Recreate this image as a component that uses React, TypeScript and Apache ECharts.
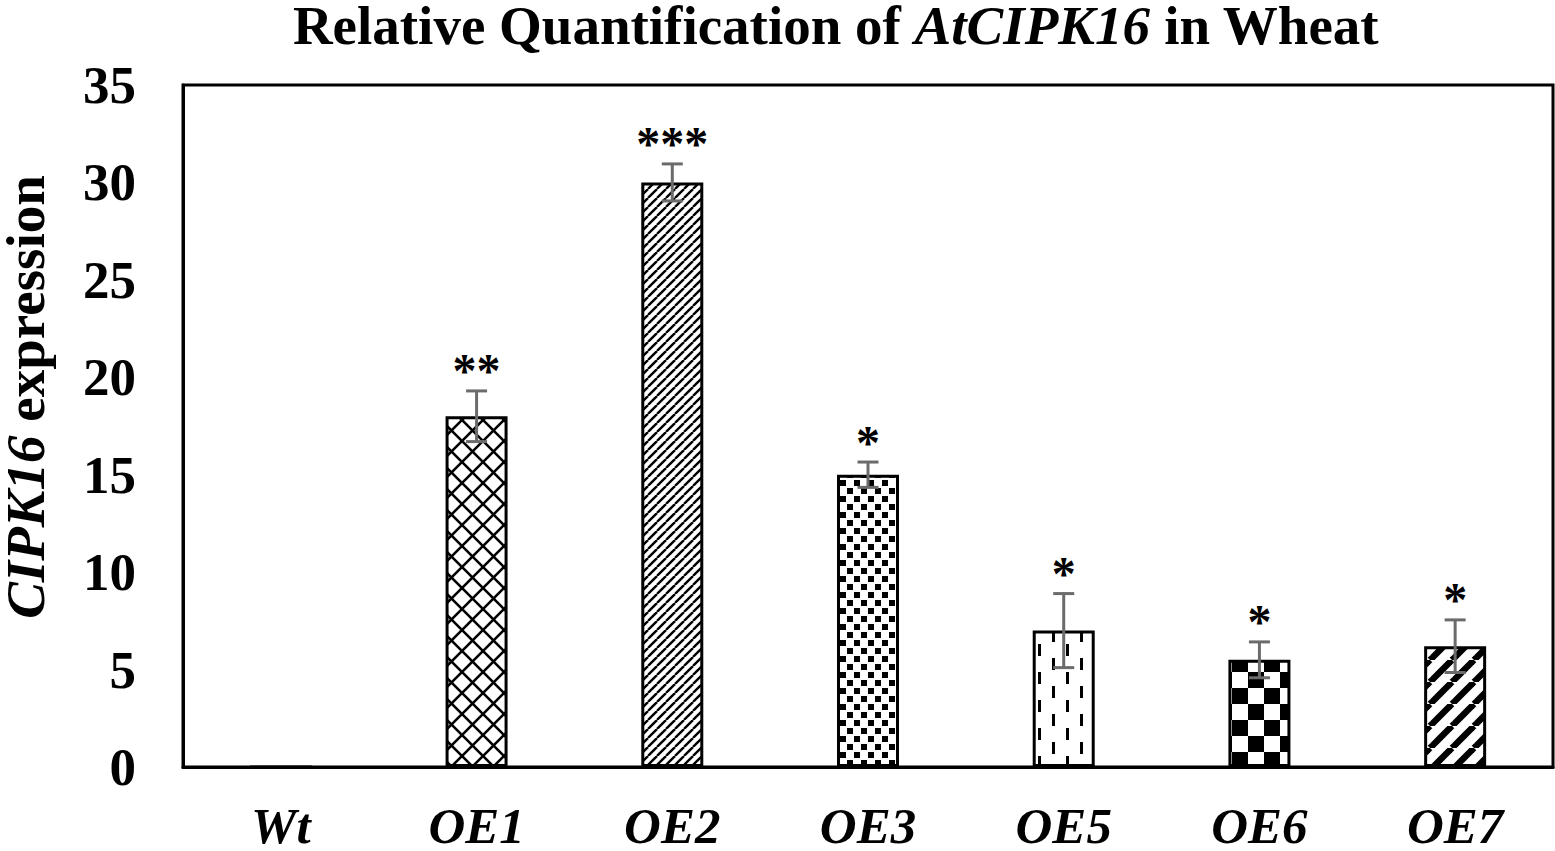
import React, { useEffect, useRef } from "react";
import * as echarts from "echarts";

const categories = ["Wt", "OE1", "OE2", "OE3", "OE5", "OE6", "OE7"];
const values = [0, 18.0, 30.0, 15.0, 7.0, 5.5, 6.2];
const errors = [0, 1.3, 0.95, 0.65, 1.9, 0.92, 1.35];
const stars = ["", "**", "***", "*", "*", "*", "*"];
const patterns = ["none", "cross", "diagThin", "dots", "dashes", "checker", "diagThick"];
const yTicks = [0, 5, 10, 15, 20, 25, 30, 35];

const FONT = "Liberation Serif";

function tile(w: number, h: number, draw: (ctx: CanvasRenderingContext2D) => void) {
  const c = document.createElement("canvas");
  c.width = w;
  c.height = h;
  const ctx = c.getContext("2d") as CanvasRenderingContext2D;
  ctx.fillStyle = "#ffffff";
  ctx.fillRect(0, 0, w, h);
  ctx.fillStyle = "#000000";
  ctx.strokeStyle = "#000000";
  draw(ctx);
  return { image: c.toDataURL(), imageWidth: w, imageHeight: h, repeat: "repeat" };
}

function makePattern(name: string): any {
  switch (name) {
    case "cross": {
      const s = 21;
      return tile(s, s, (ctx) => {
        ctx.lineWidth = 2.6;
        for (const c of [-s, 0, s]) {
          ctx.beginPath();
          ctx.moveTo(c, 0);
          ctx.lineTo(c + s, s);
          ctx.stroke();
          ctx.beginPath();
          ctx.moveTo(c, s);
          ctx.lineTo(c + s, 0);
          ctx.stroke();
        }
      });
    }
    case "diagThin": {
      const s = 9;
      return tile(s, s, (ctx) => {
        ctx.lineWidth = 2.4;
        for (const c of [-s, 0, s]) {
          ctx.beginPath();
          ctx.moveTo(c, s);
          ctx.lineTo(c + s, 0);
          ctx.stroke();
        }
      });
    }
    case "diagThick": {
      const s = 22;
      return tile(s, s, (ctx) => {
        ctx.lineWidth = 6.5;
        for (const c of [-s, 0, s]) {
          ctx.beginPath();
          ctx.moveTo(c, s);
          ctx.lineTo(c + s, 0);
          ctx.stroke();
        }
      });
    }
    case "checker": {
      const s = 16;
      return tile(2 * s, 2 * s, (ctx) => {
        ctx.fillRect(0, 0, s, s);
        ctx.fillRect(s, s, s, s);
      });
    }
    case "dots": {
      return tile(14, 16, (ctx) => {
        ctx.fillRect(0, 0, 6, 6);
        ctx.fillRect(7, 8, 6, 6);
      });
    }
    case "dashes": {
      return tile(28, 28, (ctx) => {
        ctx.fillRect(2, 0, 3, 12);
        ctx.fillRect(16, 14, 3, 12);
      });
    }
    default:
      return "#ffffff";
  }
}

export default function App() {
  const ref = useRef<HTMLDivElement>(null);

  useEffect(() => {
    if (!ref.current) return;
    const chart = echarts.init(ref.current, undefined, { renderer: "svg" });

    const barData = values.map((v, i) => ({
      value: v,
      itemStyle: { color: makePattern(patterns[i]) },
    }));
    const errData = values.map((v, i) => [i, v, errors[i]]);

    const option: any = {
      animation: false,
      backgroundColor: "#ffffff",
      title: {
        text: "{b|Relative Quantification of }{i|AtCIPK16}{b| in Wheat}",
        left: 831,
        textAlign: "center",
        top: 0,
        textStyle: {
          rich: {
            b: { fontFamily: FONT, fontWeight: "bold", fontSize: 55, color: "#000", lineHeight: 40 },
            i: { fontFamily: FONT, fontWeight: "bold", fontStyle: "italic", fontSize: 55, color: "#000", lineHeight: 40 },
          },
        },
      },
      grid: {
        left: 183,
        right: 2,
        top: 85,
        bottom: 84,
        containLabel: false,
        outerBoundsMode: "none",
        show: true,
        borderColor: "#000",
        borderWidth: 3,
        backgroundColor: "transparent",
      },
      xAxis: {
        type: "category",
        data: categories,
        boundaryGap: true,
        axisLine: { show: true, lineStyle: { color: "#000", width: 3 } },
        axisTick: { show: false },
        axisLabel: {
          margin: 36,
          lineHeight: 46,
          fontFamily: FONT,
          fontWeight: "bold",
          fontStyle: "italic",
          fontSize: 51,
          color: "#000",
        },
        splitLine: { show: false },
      },
      yAxis: {
        type: "value",
        min: 0,
        max: 35,
        interval: 5,
        axisLine: { show: true, lineStyle: { color: "#000", width: 3 } },
        axisTick: { show: false },
        splitLine: { show: false },
        axisLabel: {
          margin: 47,
          fontFamily: FONT,
          fontWeight: "bold",
          fontSize: 53,
          color: "#000",
          formatter: (v: number) => (yTicks.includes(v) ? String(v) : ""),
        },
        name: "{i|CIPK16}{b| expression}",
        nameLocation: "middle",
        nameRotate: 90,
        nameGap: 134,
        nameTextStyle: {
          padding: [0, 0, 0, 58],
          rich: {
            b: { fontFamily: FONT, fontWeight: "bold", fontSize: 55, color: "#000", lineHeight: 48 },
            i: { fontFamily: FONT, fontWeight: "bold", fontStyle: "italic", fontSize: 55, color: "#000", lineHeight: 48 },
          },
        },
      },
      series: [
        {
          type: "bar",
          data: barData,
          barWidth: 62,
          itemStyle: { borderColor: "#000", borderWidth: 3 },
          z: 2,
        },
        {
          type: "custom",
          data: errData,
          z: 5,
          renderItem: (params: any, api: any) => {
            const x = api.value(0);
            const v = api.value(1);
            const e = api.value(2);
            const s = stars[params.dataIndex];
            if (!v) return { type: "group", children: [] };
            const top = api.coord([x, v + e]);
            const bot = api.coord([x, v - e]);
            const hw = 10.5;
            const ls = { stroke: "#6b6b6b", lineWidth: 3 };
            return {
              type: "group",
              children: [
                { type: "line", shape: { x1: top[0], y1: top[1], x2: bot[0], y2: bot[1] }, style: ls },
                { type: "line", shape: { x1: top[0] - hw, y1: top[1], x2: top[0] + hw, y2: top[1] }, style: ls },
                { type: "line", shape: { x1: bot[0] - hw, y1: bot[1], x2: bot[0] + hw, y2: bot[1] }, style: ls },
                {
                  type: "text",
                  x: top[0],
                  y: top[1] - 20,
                  style: {
                    text: s,
                    fontFamily: FONT,
                    fontWeight: "bold",
                    fontSize: 48,
                    fill: "#000",
                    align: "center",
                    verticalAlign: "middle",
                  },
                },
              ],
            };
          },
        },
      ],
    };

    chart.setOption(option);
    return () => chart.dispose();
  }, []);

  return (
    <div
      ref={ref}
      style={{ position: "absolute", left: 0, top: 0, width: 1555, height: 851, background: "#fff" }}
    />
  );
}
